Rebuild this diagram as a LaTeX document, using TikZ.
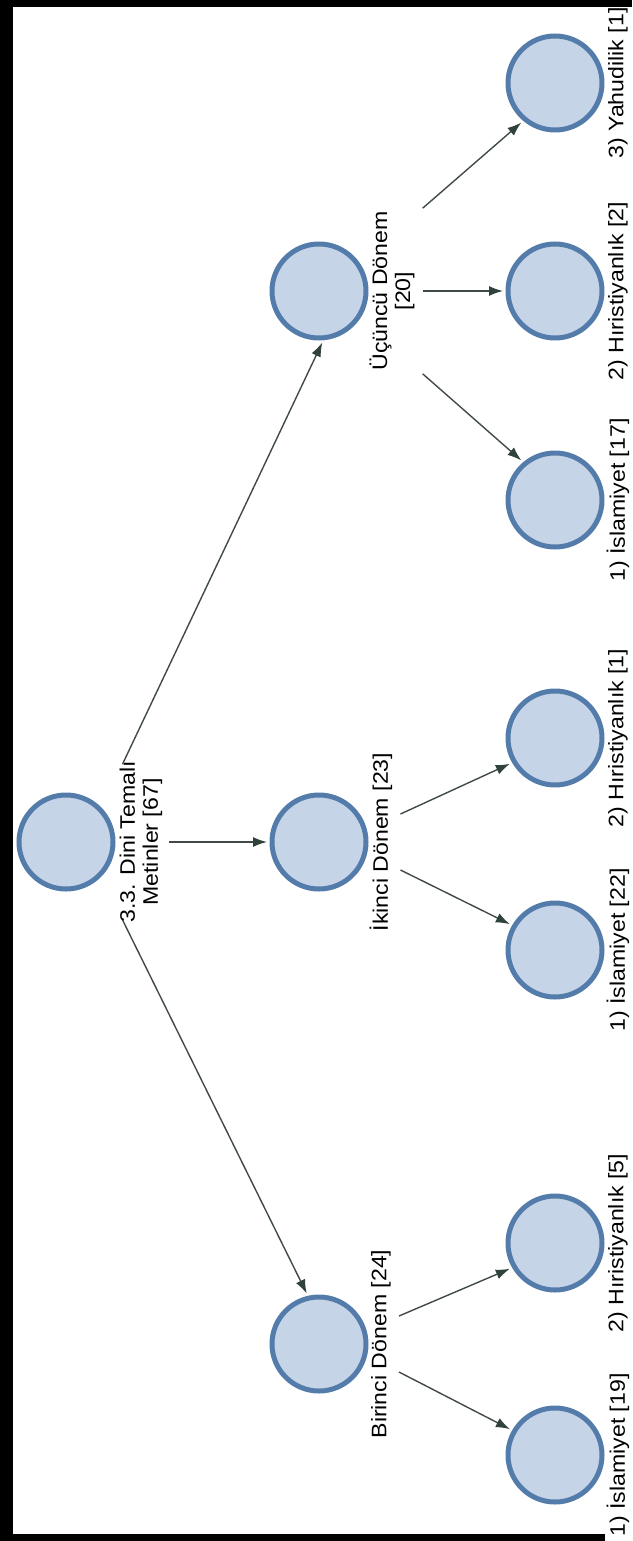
\documentclass[tikz,border=0pt]{standalone}
\usepackage{fontspec}
\setmainfont[FakeStretch=1.1]{Liberation Sans}
\usetikzlibrary{arrows.meta}

\definecolor{dugumic}{RGB}{198,212,232}
\definecolor{dugumkenar}{RGB}{84,124,170}
\definecolor{okcizgi}{RGB}{64,74,72}
\definecolor{okuc}{RGB}{48,66,60}

\begin{document}
\begin{tikzpicture}[x=1pt,y=-1pt,
	dugum/.style={circle,draw=dugumkenar,fill=dugumic,line width=5pt,minimum size=94pt,inner sep=0pt},
	etiket/.style={rotate=90,font=\fontsize{21}{23}\selectfont,align=center,inner sep=3pt},
	ok/.style={draw=okcizgi,line width=1.4pt,shorten >=2.5pt,-{Latex[length=14pt,width=10pt,color=okuc]}}]
	\useasboundingbox (0,0) rectangle (632,1541);
	\fill[black] (0,0) rectangle (13,1541);
	\fill[black] (0,0) rectangle (632,7);
	\fill[black] (0,1534) rectangle (605,1541);

	\node[dugum] (kok) at (66,842) {};
	\node[etiket] (koklab) at (141,842) {3.3. Dini Temalı\\Metinler [67]};

	\node[dugum] (ucuncu) at (319,291) {};
	\node[dugum] (ikinci) at (319,842) {};
	\node[dugum] (birinci) at (319,1344) {};
	\node[etiket] (ucunculab) at (392,291) {Üçüncü Dönem\\{[20]}};
	\node[etiket] (ikincilab) at (381,842) {İkinci Dönem [23]};
	\node[etiket] (birincilab) at (381,1344) {Birinci Dönem [24]};

	\node[dugum] (yahudi3) at (555,83) {};
	\node[dugum] (hiris3) at (555,291) {};
	\node[dugum] (islam3) at (555,500) {};
	\node[etiket] at (618,83) {3) Yahudilik [1]};
	\node[etiket] at (618,291) {2) Hıristiyanlık [2]};
	\node[etiket] at (618,500) {1) İslamiyet [17]};

	\node[dugum] (hiris2) at (555,738) {};
	\node[dugum] (islam2) at (555,950) {};
	\node[etiket] at (618,738) {2) Hıristiyanlık [1]};
	\node[etiket] at (618,950) {1) İslamiyet [22]};

	\node[dugum] (hiris1) at (555,1243) {};
	\node[dugum] (islam1) at (555,1455) {};
	\node[etiket] at (618,1243) {2) Hıristiyanlık [5]};
	\node[etiket] at (618,1455) {1) İslamiyet [19]};

	\draw[ok] ([xshift=6pt,yshift=-6pt]koklab.north east) -- (ucuncu.-85);
	\draw[ok] ([xshift=4pt]koklab.south) -- (ikinci);
	\draw[ok] ([xshift=6pt,yshift=6pt]koklab.north west) -- (birinci.103);

	\draw[ok] ([xshift=5pt]ucunculab.south east) -- (yahudi3.230);
	\draw[ok] ([xshift=5pt]ucunculab.south) -- (hiris3);
	\draw[ok] ([xshift=5pt]ucunculab.south west) -- (islam3.130);

	\draw[ok] ([xshift=5pt,yshift=28pt]ikincilab.south) -- (hiris2.210);
	\draw[ok] ([xshift=5pt,yshift=-28pt]ikincilab.south) -- (islam2.150);

	\draw[ok] ([xshift=5pt,yshift=28pt]birincilab.south) -- (hiris1.210);
	\draw[ok] ([xshift=5pt,yshift=-28pt]birincilab.south) -- (islam1.150);
\end{tikzpicture}
\end{document}
